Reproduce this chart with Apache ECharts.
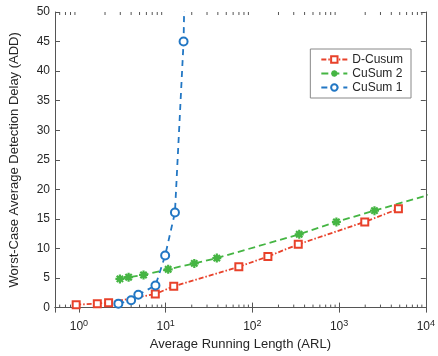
<!DOCTYPE html>
<html>
<head>
<meta charset="utf-8">
<script src="https://cdn.jsdelivr.net/npm/echarts@6/dist/echarts.min.js"></script>
<style>
  html, body { margin: 0; padding: 0; background: #fff; }
  #chart { width: 438px; height: 356px; }
</style>
</head>
<body>
<div id="chart"></div>
<script>
// values (x = ARL, y = ADD)
const dCusumArl = [0.93, 1.63, 2.2, 7.6, 12.4, 69.8, 151, 338, 1977, 4830];
const dCusumAdd = [0.5, 0.67, 0.84, 2.3, 3.6, 6.9, 8.65, 10.7, 14.5, 16.7];
const cusum2Arl = [2.97, 3.74, 5.56, 10.7, 21.4, 38.9, 347, 931, 2558, 16000];
const cusum2Add = [4.85, 5.14, 5.52, 6.48, 7.48, 8.37, 12.4, 14.5, 16.4, 19.8];
const cusum1Arl = [2.85, 4.0, 4.84, 7.63, 9.87, 12.8, 16.1, 16.8];
const cusum1Add = [0.67, 1.23, 2.18, 3.74, 8.8, 16.1, 45.0, 60];
const minorTicks = [0.6, 0.7, 0.8, 0.9,
  2, 3, 4, 5, 6, 7, 8, 9,
  20, 30, 40, 50, 60, 70, 80, 90,
  200, 300, 400, 500, 600, 700, 800, 900,
  2000, 3000, 4000, 5000, 6000, 7000, 8000, 9000];
const legendNames = ['D-Cusum', 'CuSum 2', 'CuSum 1'];

const zip = (a, b) => a.map((v, i) => [v, b[i]]);

const axisColor = '#555';
const textColor = '#262626';
const font = 'Liberation Sans, Arial, sans-serif';
const asterisk = 'path://M5,0L5,10M0,5L10,5M1.5,1.5L8.5,8.5M8.5,1.5L1.5,8.5';

let chart = echarts.init(document.getElementById('chart'));

const xCommon = {
  type: 'log',
  logBase: 10,
  min: 0.53,
  max: 10000,
  splitLine: { show: false },
  axisLine: { show: true, lineStyle: { color: axisColor, width: 1 } },
  axisTick: { show: true, inside: true, length: 5, lineStyle: { color: axisColor } },
  minorTick: { show: false }
};
const yCommon = {
  type: 'value',
  min: 0,
  max: 50,
  interval: 5,
  splitLine: { show: false },
  axisLine: { show: true, lineStyle: { color: axisColor, width: 1 } },
  axisTick: { show: true, inside: true, length: 5, lineStyle: { color: axisColor } }
};

let option = {
  animation: false,
  textStyle: { fontFamily: font },
  grid: { left: 47, right: 9, top: 12, bottom: 45, containLabel: false },
  legend: {
    data: legendNames,
    orient: 'vertical',
    right: 27,
    top: 49,
    itemWidth: 26,
    itemHeight: 8,
    itemGap: 1,
    padding: [4, 8, 4, 10],
    backgroundColor: '#fff',
    borderColor: '#888',
    borderWidth: 1,
    borderRadius: 0,
    selectedMode: false,
    textStyle: { fontSize: 12, color: textColor, fontFamily: font, lineHeight: 13 }
  },
  xAxis: [
    Object.assign({}, xCommon, {
      position: 'bottom',
      name: 'Average Running Length (ARL)',
      nameLocation: 'middle',
      nameGap: 30,
      nameTextStyle: { fontSize: 13, color: textColor, fontFamily: font },
      axisLabel: {
        margin: 11,
        color: textColor,
        formatter: function (v) {
          const e = Math.log10(v);
          if (Math.abs(e - Math.round(e)) > 1e-6) return '';
          return '{b|10}{e|' + Math.round(e) + '}';
        },
        rich: {
          b: { fontSize: 12, color: textColor, fontFamily: font },
          e: { fontSize: 9, color: textColor, fontFamily: font, padding: [0, 0, 8, 0] }
        }
      }
    }),
    Object.assign({}, xCommon, { position: 'top', axisLabel: { show: false } })
  ],
  yAxis: [
    Object.assign({}, yCommon, {
      position: 'left',
      name: 'Worst-Case Average Detection Delay (ADD)',
      nameLocation: 'middle',
      nameGap: 34,
      nameTextStyle: { fontSize: 13, color: textColor, fontFamily: font },
      axisLabel: { margin: 5, fontSize: 12, color: textColor }
    }),
    Object.assign({}, yCommon, { position: 'right', axisLabel: { show: false } })
  ],
  series: [
    {
      name: 'D-Cusum',
      type: 'line',
      data: zip(dCusumArl, dCusumAdd),
      symbol: 'emptyRect',
      symbolSize: 7,
      color: '#e8412a',
      lineStyle: { width: 1.8, type: [5, 2, 1.5, 2] },
      itemStyle: { borderWidth: 1.8 },
      z: 3
    },
    {
      name: 'CuSum 2',
      type: 'line',
      data: zip(cusum2Arl, cusum2Add),
      symbol: asterisk,
      symbolSize: 9,
      color: '#45b543',
      lineStyle: { width: 1.8, type: [7, 4] },
      itemStyle: { color: '#45b543', borderColor: '#45b543', borderWidth: 2.2 },
      z: 3
    },
    {
      name: 'CuSum 1',
      type: 'line',
      data: zip(cusum1Arl, cusum1Add),
      symbol: 'emptyCircle',
      symbolSize: 8,
      color: '#2277c4',
      lineStyle: { width: 1.8, type: [6, 5] },
      itemStyle: { borderWidth: 1.8 },
      z: 3
    },
    {
      // minor log ticks on the bottom and top edges
      name: 'minor',
      type: 'custom',
      silent: true,
      clip: false,
      data: minorTicks.map(v => [v, 0]),
      renderItem: function (params, api) {
        const v = api.value(0);
        const b = api.coord([v, 0]);
        const t = api.coord([v, 50]);
        return {
          type: 'group',
          children: [
            { type: 'line', shape: { x1: b[0], y1: b[1], x2: b[0], y2: b[1] - 3 }, style: { stroke: axisColor, lineWidth: 1 } },
            { type: 'line', shape: { x1: t[0], y1: t[1], x2: t[0], y2: t[1] + 3 }, style: { stroke: axisColor, lineWidth: 1 } }
          ]
        };
      },
      z: 1
    }
  ]
};

chart.setOption(option);
</script>
</body>
</html>
